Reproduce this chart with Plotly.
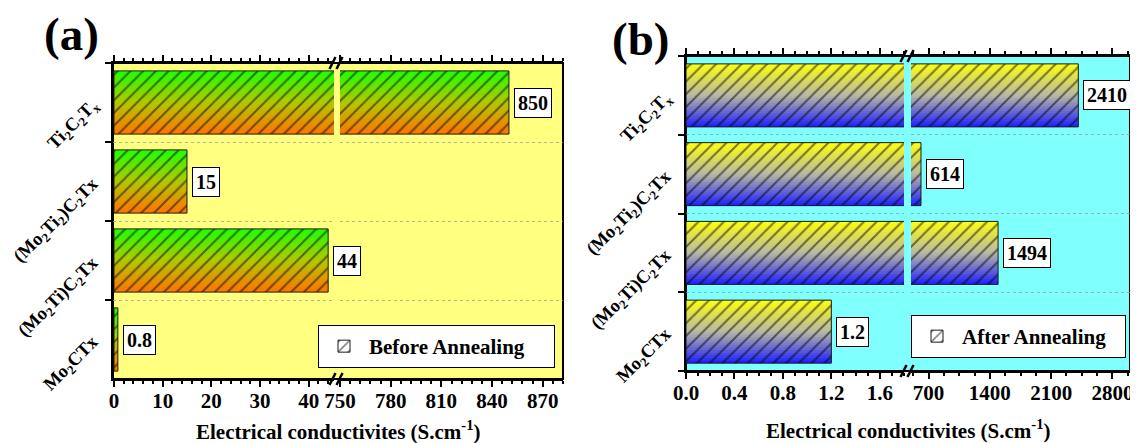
import plotly.graph_objects as go

# ---------------- data ----------------
categories = [
    "Mo<sub>2</sub>CTx",
    "(Mo<sub>2</sub>Ti)C<sub>2</sub>Tx",
    "(Mo<sub>2</sub>Ti<sub>2</sub>)C<sub>2</sub>Tx",
    "Ti<sub>2</sub>C<sub>2</sub>T<sub>x</sub>",
]
before_values = [0.8, 44, 15, 850]
before_labels = ["0.8", "44", "15", "850"]
after_values = [1.2, 1494, 614, 2410]
after_labels = ["1.2", "1494", "614", "2410"]

a_left_ticks = [0, 10, 20, 30, 40]
a_right_ticks = [750, 780, 810, 840, 870]
b_left_ticks = [0.0, 0.4, 0.8, 1.2, 1.6]
b_left_ticktext = ["0.0", "0.4", "0.8", "1.2", "1.6"]
b_right_ticks = [700, 1400, 2100, 2800]

legend_a = "Before Annealing"
legend_b = "After Annealing"
axis_title = "Electrical conductivites (S.cm<sup>-1</sup>)"

# ---------------- layout helpers ----------------
W, H = 1138, 443
OFF = 8  # the page body margin shifts the figure by this many pixels
FONT = "Liberation Serif, Times New Roman, serif"


def px(x):
    return (x - OFF) / W


def py(y):
    return 1 - (y - OFF) / H


def bold(t):
    return f"<b>{t}</b>"


def hex2rgb(h):
    h = h.lstrip("#")
    return tuple(int(h[i:i + 2], 16) for i in (0, 2, 4))


def grad(stops, s):
    n = len(stops) - 1
    k = min(int(s * n), n - 1)
    f = s * n - k
    a, b = hex2rgb(stops[k]), hex2rgb(stops[k + 1])
    c = [round(a[j] + (b[j] - a[j]) * f) for j in range(3)]
    return f"rgb({c[0]},{c[1]},{c[2]})"


panels = [
    dict(values=before_values, labels=before_labels,
         axes=[("x", "y", [-0.2, 45.2]), ("x2", "y2", [750, 882])],
         stops=["#1EFF00", "#B2C800", "#FF7400"],
         name=legend_a, legend="legend"),
    dict(values=after_values, labels=after_labels,
         axes=[("x3", "y3", [0, 1.8]), ("x4", "y4", [500, 3000])],
         stops=["#FFFF10", "#B8B8A4", "#1E1EFF"],
         name=legend_b, legend="legend2"),
]

BAR_W = 0.8
N = 24
step = BAR_W / N

fig = go.Figure()

for p in panels:
    for ai, (xa, ya, rng) in enumerate(p["axes"]):
        for i in range(N):
            off = -BAR_W / 2 + i * step
            wdt = min(step * 1.6, BAR_W / 2 - off)
            s = 1 - (i + 0.5) / N
            fig.add_trace(go.Bar(
                y=categories, x=p["values"], orientation="h",
                xaxis=xa, yaxis=ya, width=wdt, offset=off,
                marker=dict(color=grad(p["stops"], s), line=dict(width=0)),
                showlegend=False, hoverinfo="skip"))
        fig.add_trace(go.Bar(
            y=categories, x=p["values"], orientation="h",
            xaxis=xa, yaxis=ya, width=BAR_W, offset=-BAR_W / 2,
            marker=dict(color="rgba(0,0,0,0)",
                        line=dict(color="#1a1a1a", width=1),
                        pattern=dict(shape="/", fgcolor="black",
                                     bgcolor="rgba(0,0,0,0)", size=9,
                                     solidity=0.22, fillmode="overlay")),
            name=bold(p["name"]), legend=p["legend"], showlegend=(ai == 0),
            hoverinfo="skip"))

tickfont = dict(family=FONT, size=21, color="black")
ytickfont = dict(family=FONT, size=18.5, color="black")


def xaxis(dom, rng, tickvals, ticktext, minor_dtick, tick0, anchor):
    return dict(domain=[px(dom[0]), px(dom[1])], range=rng, anchor=anchor,
                tickmode="array", tickvals=tickvals,
                ticktext=[bold(t) for t in ticktext],
                ticks="outside", ticklen=6, tickwidth=2, tickcolor="black",
                minor=dict(ticks="outside", ticklen=3, tickwidth=1.5,
                           tickcolor="black", dtick=minor_dtick, tick0=tick0),
                showgrid=False, zeroline=False, showline=True,
                linecolor="black", linewidth=2, mirror="ticks",
                ticklabelstandoff=-4,
                tickfont=tickfont, automargin=False, fixedrange=True)


def yaxis(dom, anchor, first, match=None):
    d = dict(domain=[py(dom[1]), py(dom[0])], anchor=anchor, type="category",
             categoryorder="array", categoryarray=categories,
             range=[-0.5, 3.5], tickson="boundaries",
             showgrid=True, gridcolor="rgba(150,150,150,0.7)", griddash="dot",
             gridwidth=1, zeroline=False, automargin=False, fixedrange=True)
    if first:
        d.update(ticks="outside", ticklen=6, tickwidth=2, tickcolor="black",
                 showline=True, linecolor="black", linewidth=2,
                 tickmode="array", tickvals=categories,
                 ticktext=[bold(c) for c in categories],
                 ticklabelstandoff=15,
                 tickangle=-45, tickfont=ytickfont, showticklabels=True)
    else:
        d.update(ticks="", showline=False, showticklabels=False)
    if match:
        d["matches"] = match
    return d


A_Y = (63, 379)
B_Y = (56, 371)

legfont = dict(family=FONT, size=21, color="black")

fig.update_layout(
    width=W, height=H,
    margin=dict(l=0, r=0, t=0, b=0),
    paper_bgcolor="white", plot_bgcolor="rgba(0,0,0,0)",
    barmode="overlay",
    xaxis=xaxis((113, 334), [-0.2, 45.2], a_left_ticks,
                [str(v) for v in a_left_ticks], 2, 0, "y"),
    xaxis2=xaxis((340, 563), [750, 882], a_right_ticks,
                 [str(v) for v in a_right_ticks], 6, 750, "y2"),
    xaxis3=xaxis((686, 904), [0, 1.8], b_left_ticks, b_left_ticktext,
                 0.1, 0, "y3"),
    xaxis4=xaxis((911, 1130), [500, 3000], b_right_ticks,
                 [str(v) for v in b_right_ticks], 175, 0, "y4"),
    yaxis=yaxis(A_Y, "x", True),
    yaxis2=yaxis(A_Y, "x2", False, "y"),
    yaxis3=yaxis(B_Y, "x3", True),
    yaxis4=yaxis(B_Y, "x4", False, "y3"),
    legend=dict(x=px(318), y=py(325), xanchor="left", yanchor="top",
                bgcolor="white", bordercolor="black", borderwidth=1,
                font=legfont, itemwidth=40, orientation="h",
                entrywidth=180),
    legend2=dict(x=px(911), y=py(315), xanchor="left", yanchor="top",
                 bgcolor="white", bordercolor="black", borderwidth=1,
                 font=legfont, itemwidth=40, orientation="h",
                 entrywidth=158),
)

# frames with background fill
shapes = []
for (x0, x1, y0, y1, fill) in [(113, 563, A_Y[0], A_Y[1], "#FFFF80"),
                               (686, 1130, B_Y[0], B_Y[1], "#80FFFF")]:
    shapes.append(dict(type="rect", xref="paper", yref="paper",
                       x0=px(x0), x1=px(x1), y0=py(y1), y1=py(y0),
                       line=dict(color="black", width=2), fillcolor=fill,
                       layer="below"))

# break marks
for (xc, ytop, ybot) in [(336, A_Y[0], A_Y[1]), (907, B_Y[0], B_Y[1])]:
    for yc in (ytop, ybot):
        for dx in (-3.5, 3.5):
            shapes.append(dict(type="line", xref="paper", yref="paper",
                               x0=px(xc + dx - 3), y0=py(yc + 6),
                               x1=px(xc + dx + 3), y1=py(yc - 6),
                               line=dict(color="black", width=2.5),
                               layer="above"))
fig.update_layout(shapes=shapes)

# value labels
annotations = []
for p in panels:
    (xl, yl, rl), (xr, yr, rr) = p["axes"]
    for cat, v, lab in zip(categories, p["values"], p["labels"]):
        if v <= rl[1]:
            xref, yref = xl, yl
        else:
            xref, yref = xr, yr
        annotations.append(dict(
            x=v, y=cat, xref=xref, yref=yref, text=bold(lab),
            showarrow=False, xanchor="left", yanchor="middle", xshift=5,
            bgcolor="white", bordercolor="black", borderwidth=1, borderpad=3,
            font=dict(family=FONT, size=20, color="black")))

# axis titles and panel labels
for xc, yc in [(338, 430), (908, 429)]:
    annotations.append(dict(
        x=px(xc), y=py(yc), xref="paper", yref="paper",
        text=bold(axis_title), showarrow=False,
        xanchor="center", yanchor="middle",
        font=dict(family=FONT, size=21, color="black")))
for txt, xc, yc in [("(a)", 71, 34), ("(b)", 640, 39)]:
    annotations.append(dict(
        x=px(xc), y=py(yc), xref="paper", yref="paper",
        text=bold(txt), showarrow=False,
        xanchor="center", yanchor="middle",
        font=dict(family=FONT, size=47, color="black")))
fig.update_layout(annotations=annotations)

fig.write_html("out.html")
